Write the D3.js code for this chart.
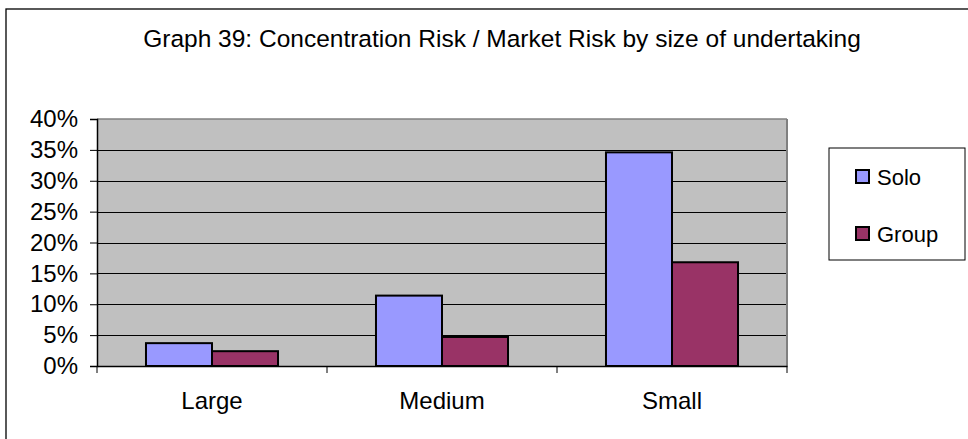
<!DOCTYPE html>
<html><head><meta charset="utf-8">
<script src="https://cdn.jsdelivr.net/npm/d3@7"></script>
<style>html,body{margin:0;padding:0;background:#fff;overflow:hidden}svg{display:block}text{font-family:"Liberation Sans",Arial,sans-serif;fill:#000}</style>
</head><body>
<script>
const title = "Graph 39: Concentration Risk / Market Risk by size of undertaking";
const categories = ["Large", "Medium", "Small"];
const seriesNames = ["Solo", "Group"];
const soloValues = [3.7, 11.4, 34.6];
const groupValues = [2.4, 4.7, 16.8];
const yTicks = [0, 5, 10, 15, 20, 25, 30, 35, 40];
const colors = ["#9999FF", "#993366"];

const W = 968, H = 439;
const svg = d3.select("body").append("svg").attr("width", W).attr("height", H);

// outer frame (extends beyond window on right and bottom)
svg.append("rect").attr("x", 6).attr("y", 9).attr("width", 1000).attr("height", 500)
  .attr("fill", "#fff").attr("stroke", "#000").attr("stroke-width", 1.3);

const plot = {left: 97, right: 787, top: 119, bottom: 366};
const x = d3.scaleBand().domain(categories).range([plot.left, plot.right]).padding(0);
const xs = d3.scaleBand().domain(seriesNames).range([0, x.bandwidth()]).paddingInner(0).paddingOuter(0.742);
const y = d3.scaleLinear().domain([0, 40]).range([plot.bottom, plot.top]);

// plot background
svg.append("rect").attr("x", plot.left).attr("y", plot.top)
  .attr("width", plot.right - plot.left).attr("height", plot.bottom - plot.top).attr("fill", "#C0C0C0");

// gridlines
svg.append("g").selectAll("line").data(yTicks.filter(d => d > 0 && d < 40)).join("line")
  .attr("x1", plot.left).attr("x2", plot.right)
  .attr("y1", d => Math.round(y(d)) + 0.5).attr("y2", d => Math.round(y(d)) + 0.5)
  .attr("stroke", "#000").attr("stroke-width", 1);

// plot border top/right
svg.append("line").attr("x1", plot.left).attr("x2", plot.right).attr("y1", plot.top).attr("y2", plot.top)
  .attr("stroke", "#808080").attr("stroke-width", 1.5);
svg.append("line").attr("x1", plot.right).attr("x2", plot.right).attr("y1", plot.top).attr("y2", plot.bottom)
  .attr("stroke", "#808080").attr("stroke-width", 2);

// bars
const data = categories.map((c, i) => ({cat: c, vals: [soloValues[i], groupValues[i]]}));
const g = svg.append("g");
data.forEach(d => {
  d.vals.forEach((v, j) => {
    g.append("rect")
      .attr("x", x(d.cat) + xs(seriesNames[j]))
      .attr("y", y(v))
      .attr("width", xs.bandwidth())
      .attr("height", y(0) - y(v))
      .attr("fill", colors[j]).attr("stroke", "#000").attr("stroke-width", 2);
  });
});

// y axis
const yAxis = d3.axisLeft(y).tickValues(yTicks).tickFormat(d => d + "%").tickSize(7).tickPadding(12);
const ya = svg.append("g").attr("transform", `translate(${plot.left},0)`).call(yAxis);
ya.select(".domain").attr("stroke", "#000").attr("stroke-width", 1.5);
ya.selectAll(".tick line").attr("stroke", "#000");
ya.selectAll(".tick text").attr("font-size", 24).attr("font-family", "Liberation Sans, Arial, sans-serif").attr("fill", "#000");

// x axis
const xAxis = d3.axisBottom(x).tickSize(0).tickPadding(26);
const xa = svg.append("g").attr("transform", `translate(0,${plot.bottom})`).call(xAxis);
xa.select(".domain").attr("stroke", "#000").attr("stroke-width", 1.5);
xa.selectAll(".tick text").attr("font-size", 24).attr("font-family", "Liberation Sans, Arial, sans-serif").attr("fill", "#000");
// category separator ticks
const sep = categories.map(c => x(c)).concat([plot.right]);
svg.append("g").selectAll("line").data(sep).join("line")
  .attr("x1", d => d).attr("x2", d => d).attr("y1", plot.bottom).attr("y2", plot.bottom + 7)
  .attr("stroke", "#000").attr("stroke-width", 1);

// title
svg.append("text").attr("x", 502).attr("y", 47).attr("text-anchor", "middle")
  .attr("font-size", 24.5).text(title);

// legend
const lg = svg.append("g");
lg.append("rect").attr("x", 829).attr("y", 148).attr("width", 136).attr("height", 112)
  .attr("fill", "#fff").attr("stroke", "#000").attr("stroke-width", 1);
seriesNames.forEach((s, j) => {
  const yy = 170 + j * 57;
  lg.append("rect").attr("x", 856).attr("y", yy).attr("width", 13).attr("height", 13)
    .attr("fill", colors[j]).attr("stroke", "#000").attr("stroke-width", 2);
  lg.append("text").attr("x", 877).attr("y", yy + 14.5).attr("font-size", 22).text(s);
});
</script>
</body></html>
